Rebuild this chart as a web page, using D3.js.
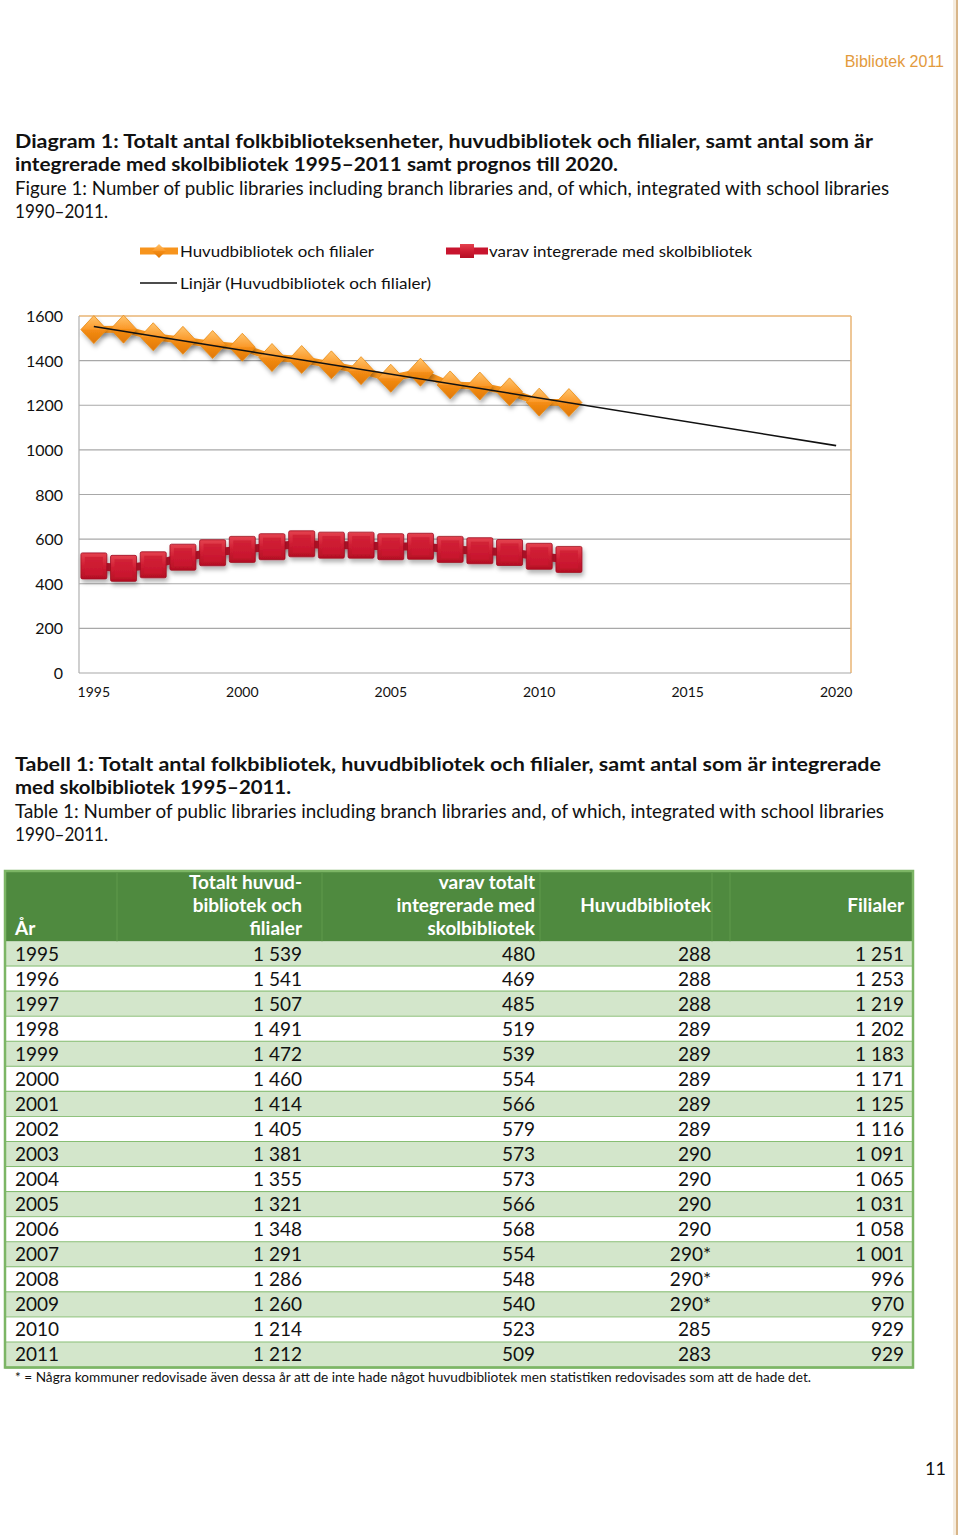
<!DOCTYPE html>
<html>
<head>
<meta charset="utf-8">
<script src="https://cdn.jsdelivr.net/npm/d3@7"></script>
<style>
  html, body { margin: 0; padding: 0; background: #fff; }
  svg { display: block; }
  text { font-family: Lato, "Open Sans", sans-serif; }
</style>
</head>
<body>
<div id="chart"></div>
<script>
// ---------------- DATA ----------------
const years = [1995, 1996, 1997, 1998, 1999, 2000, 2001, 2002, 2003, 2004, 2005, 2006, 2007, 2008, 2009, 2010, 2011];
const totalLibraries = [1539, 1541, 1507, 1491, 1472, 1460, 1414, 1405, 1381, 1355, 1321, 1348, 1291, 1286, 1260, 1214, 1212];
const integratedSchool = [480, 469, 485, 519, 539, 554, 566, 579, 573, 573, 566, 568, 554, 548, 540, 523, 509];
const mainLibraries = [288, 288, 288, 289, 289, 289, 289, 289, 290, 290, 290, 290, 290, 290, 290, 285, 283];
const mainFootnoteFlag = [false, false, false, false, false, false, false, false, false, false, false, false, true, true, true, false, false];
const branchLibraries = [1251, 1253, 1219, 1202, 1183, 1171, 1125, 1116, 1091, 1065, 1031, 1058, 1001, 996, 970, 929, 929];

const axisCategories = [1995, 1996, 1997, 1998, 1999, 2000, 2001, 2002, 2003, 2004, 2005, 2006, 2007, 2008, 2009, 2010, 2011, 2012, 2013, 2014, 2015, 2016, 2017, 2018, 2019, 2020];
const xTickLabels = [1995, 2000, 2005, 2010, 2015, 2020];
const yTicks = [0, 200, 400, 600, 800, 1000, 1200, 1400, 1600];
const trendYears = [1995, 2020];
const trendValues = [1553, 1019];

const seriesNames = ["Huvudbibliotek och filialer", "varav integrerade med skolbibliotek", "Linjär (Huvudbibliotek och filialer)"];
const tableHeaders = [["År"], ["Totalt huvud-", "bibliotek och", "filialer"], ["varav totalt", "integrerade med", "skolbibliotek"], ["Huvudbibliotek"], ["Filialer"]];

// ---------------- SETUP ----------------
const W = 960, H = 1535;
const svg = d3.select("#chart").append("svg").attr("width", W).attr("height", H);
const defs = svg.append("defs");

const sh = defs.append("filter").attr("id", "shadow").attr("x", "-50%").attr("y", "-50%").attr("width", "200%").attr("height", "200%");
sh.append("feDropShadow").attr("dx", 1.5).attr("dy", 3.5).attr("stdDeviation", 2).attr("flood-color", "#000").attr("flood-opacity", 0.3);

const og = defs.append("linearGradient").attr("id", "orangeGrad").attr("x1", 0).attr("y1", 0).attr("x2", 0).attr("y2", 1);
og.append("stop").attr("offset", "0%").attr("stop-color", "#ffc46e");
og.append("stop").attr("offset", "48%").attr("stop-color", "#fb9a2a");
og.append("stop").attr("offset", "52%").attr("stop-color", "#f48c14");
og.append("stop").attr("offset", "100%").attr("stop-color", "#e07806");

const rg = defs.append("linearGradient").attr("id", "redGrad").attr("x1", 0).attr("y1", 0).attr("x2", 0).attr("y2", 1);
rg.append("stop").attr("offset", "0%").attr("stop-color", "#e4424f");
rg.append("stop").attr("offset", "50%").attr("stop-color", "#cf1d33");
rg.append("stop").attr("offset", "100%").attr("stop-color", "#b50f25");

const ORANGE = "#f7941d", RED = "#c8142e";

// page border
svg.append("line").attr("x1", 954.5).attr("x2", 954.5).attr("y1", 0).attr("y2", H).attr("stroke", "#f5ecdf").attr("stroke-width", 3);
svg.append("line").attr("x1", 957).attr("x2", 957).attr("y1", 0).attr("y2", H).attr("stroke", "#d8b588").attr("stroke-width", 2);

// header
svg.append("text").attr("x", 944).attr("y", 67).attr("text-anchor", "end")
  .style("font-family", "'Liberation Sans', Arial, sans-serif").style("font-size", "16px").attr("fill", "#e39a3c").text("Bibliotek 2011");

function line(txt, x, y, size, bold, width) {
  const t = svg.append("text").attr("x", x).attr("y", y).style("font-size", size + "px")
    .style("font-weight", bold ? 700 : 400).attr("fill", "#111").text(txt);
  if (width) t.attr("textLength", width).attr("lengthAdjust", "spacingAndGlyphs");
  return t;
}

// title
line("Diagram 1: Totalt antal folkbiblioteksenheter, huvudbibliotek och filialer, samt antal som är", 15, 148, 19, true, 858);
line("integrerade med skolbibliotek 1995–2011 samt prognos till 2020.", 15, 171, 19, true, 603);
line("Figure 1: Number of public libraries including branch libraries and, of which, integrated with school libraries", 15, 195, 19, false, 874);
line("1990–2011.", 15, 218, 19, false, 93);

// ---------------- CHART ----------------
const plot = { left: 79, right: 851, top: 316, bottom: 673 };
const x = d3.scaleBand().domain(axisCategories).range([plot.left, plot.right]);
const cx = d => x(d) + x.bandwidth() / 2;
const y = d3.scaleLinear().domain([0, 1600]).range([plot.bottom, plot.top]);

// gridlines
svg.append("g").selectAll("line").data(yTicks.filter(v => v > 0 && v < 1600)).join("line")
  .attr("x1", plot.left).attr("x2", plot.right).attr("y1", d => y(d)).attr("y2", d => y(d))
  .attr("stroke", "#a8a8a8").attr("stroke-width", 1.2);
// borders
svg.append("line").attr("x1", plot.left).attr("x2", plot.right).attr("y1", y(1600)).attr("y2", y(1600)).attr("stroke", "#e8b574").attr("stroke-width", 1.5);
svg.append("line").attr("x1", plot.right).attr("x2", plot.right).attr("y1", plot.top).attr("y2", plot.bottom).attr("stroke", "#e8b574").attr("stroke-width", 1.5);
svg.append("line").attr("x1", plot.left).attr("x2", plot.left).attr("y1", plot.top).attr("y2", plot.bottom).attr("stroke", "#b0b0b0").attr("stroke-width", 1.2);
svg.append("line").attr("x1", plot.left).attr("x2", plot.right).attr("y1", plot.bottom).attr("y2", plot.bottom).attr("stroke", "#a8a8a8").attr("stroke-width", 1.2);

// y axis labels
const yAxis = d3.axisLeft(y).tickValues(yTicks).tickFormat(d3.format("d")).tickSize(0).tickPadding(0);
const gy = svg.append("g").attr("transform", `translate(63,0)`).call(yAxis);
gy.select(".domain").remove();
gy.selectAll("text").style("font-size", "16px").style("font-family", "Lato, sans-serif").attr("fill", "#111").attr("dy", "0.35em");

// x axis labels
const xAxis = d3.axisBottom(x).tickValues(xTickLabels).tickFormat(d3.format("d")).tickSize(0).tickPadding(0);
const gx = svg.append("g").attr("transform", `translate(0,${plot.bottom + 14})`).call(xAxis);
gx.select(".domain").remove();
gx.selectAll("text").style("font-size", "14px").style("font-family", "Lato, sans-serif").attr("fill", "#111").attr("dy", "0.7em");

const pts1 = years.map((yr, i) => [cx(yr), y(totalLibraries[i])]);
const pts2 = years.map((yr, i) => [cx(yr), y(integratedSchool[i])]);

// orange series
svg.append("path").attr("d", d3.line()(pts1)).attr("fill", "none").attr("stroke", ORANGE).attr("stroke-width", 7).attr("filter", "url(#shadow)");
const dS = 14;
svg.append("g").selectAll("path").data(pts1).join("path")
  .attr("d", d => `M${d[0]},${d[1] - dS}L${d[0] + dS - 1},${d[1]}L${d[0]},${d[1] + dS}L${d[0] - dS + 1},${d[1]}Z`)
  .attr("fill", "url(#orangeGrad)").attr("stroke", "#e88a12").attr("stroke-width", 0.8).attr("filter", "url(#shadow)");

// red series
svg.append("path").attr("d", d3.line()(pts2)).attr("fill", "none").attr("stroke", RED).attr("stroke-width", 8).attr("filter", "url(#shadow)");
const rS = 13;
const rg2 = svg.append("g").selectAll("g").data(pts2).join("g").attr("filter", "url(#shadow)");
rg2.append("rect").attr("x", d => d[0] - rS).attr("y", d => d[1] - rS).attr("width", 2 * rS).attr("height", 2 * rS)
  .attr("rx", 1.5).attr("fill", "url(#redGrad)").attr("stroke", "#9e0c20").attr("stroke-width", 0.8);
rg2.append("rect").attr("x", d => d[0] - rS + 4).attr("y", d => d[1] - rS + 4).attr("width", 2 * rS - 8).attr("height", 2 * rS - 8)
  .attr("fill", "#cc1a30").attr("opacity", 0.7);

// trend line
svg.append("path").attr("d", d3.line()(trendYears.map((yr, i) => [cx(yr), y(trendValues[i])])))
  .attr("fill", "none").attr("stroke", "#111").attr("stroke-width", 1.6);

// legend
const leg = svg.append("g");
leg.append("line").attr("x1", 140).attr("x2", 178).attr("y1", 251).attr("y2", 251).attr("stroke", ORANGE).attr("stroke-width", 7);
leg.append("path").attr("d", "M159,244L166,251L159,258L152,251Z").attr("fill", "url(#orangeGrad)");
leg.append("text").attr("x", 180).attr("y", 257).style("font-size", "16px").attr("fill", "#111").text(seriesNames[0]).attr("textLength", 194).attr("lengthAdjust", "spacingAndGlyphs");
leg.append("line").attr("x1", 446).attr("x2", 488).attr("y1", 251).attr("y2", 251).attr("stroke", RED).attr("stroke-width", 7);
leg.append("rect").attr("x", 460).attr("y", 244).attr("width", 14).attr("height", 14).attr("fill", "url(#redGrad)");
leg.append("text").attr("x", 489).attr("y", 257).style("font-size", "16px").attr("fill", "#111").text(seriesNames[1]).attr("textLength", 263).attr("lengthAdjust", "spacingAndGlyphs");
leg.append("line").attr("x1", 140).attr("x2", 177).attr("y1", 283).attr("y2", 283).attr("stroke", "#111").attr("stroke-width", 1.5);
leg.append("text").attr("x", 180).attr("y", 289).style("font-size", "16px").attr("fill", "#111").text(seriesNames[2]).attr("textLength", 251).attr("lengthAdjust", "spacingAndGlyphs");

// ---------------- TABLE ----------------
line("Tabell 1: Totalt antal folkbibliotek, huvudbibliotek och filialer, samt antal som är integrerade", 15, 771, 19, true, 866);
line("med skolbibliotek 1995–2011.", 15, 794, 19, true, 276);
line("Table 1: Number of public libraries including branch libraries and, of which, integrated with school libraries", 15, 818, 19, false, 869);
line("1990–2011.", 15, 841, 19, false, 93);

const fmt = d3.formatLocale({ decimal: ",", thousands: " ", grouping: [3], currency: ["", " kr"] }).format(",d");
const tbl = { left: 5, right: 913, headTop: 871, headBottom: 941.5, rowH: 25.06 };
const colRight = [null, 302, 535, 711, 904];
const headDividers = [117, 322, 540, 712, 730];

svg.append("rect").attr("x", tbl.left).attr("y", tbl.headTop).attr("width", tbl.right - tbl.left).attr("height", tbl.headBottom - tbl.headTop).attr("fill", "#4f8a3f");
svg.append("g").selectAll("line").data(headDividers).join("line")
  .attr("x1", d => d).attr("x2", d => d).attr("y1", tbl.headTop + 2).attr("y2", tbl.headBottom)
  .attr("stroke", "#5a9449").attr("stroke-width", 1.5);

const rows = svg.append("g").selectAll("g").data(years).join("g")
  .attr("transform", (d, i) => `translate(0,${tbl.headBottom + i * tbl.rowH})`);
rows.append("rect").attr("x", tbl.left).attr("y", 0).attr("width", tbl.right - tbl.left).attr("height", tbl.rowH)
  .attr("fill", (d, i) => i % 2 === 0 ? "#d3e6cb" : "#ffffff");
rows.append("line").attr("x1", tbl.left).attr("x2", tbl.right).attr("y1", tbl.rowH).attr("y2", tbl.rowH).attr("stroke", "#86bd72").attr("stroke-width", 2);

const bodyStyle = t => t.style("font-size", "19px").attr("fill", "#111").attr("y", 19);
rows.append("text").attr("x", 15).text(d => d).call(bodyStyle);
rows.append("text").attr("x", colRight[1]).attr("text-anchor", "end").text((d, i) => fmt(totalLibraries[i])).call(bodyStyle);
rows.append("text").attr("x", colRight[2]).attr("text-anchor", "end").text((d, i) => fmt(integratedSchool[i])).call(bodyStyle);
rows.append("text").attr("x", colRight[3]).attr("text-anchor", "end")
  .text((d, i) => fmt(mainLibraries[i]) + (mainFootnoteFlag[i] ? "*" : "")).call(bodyStyle);
rows.append("text").attr("x", colRight[4]).attr("text-anchor", "end").text((d, i) => fmt(branchLibraries[i])).call(bodyStyle);

// outer border
const tblBottom = tbl.headBottom + years.length * tbl.rowH;
svg.append("rect").attr("x", tbl.left).attr("y", tbl.headTop).attr("width", tbl.right - tbl.left).attr("height", tblBottom - tbl.headTop)
  .attr("fill", "none").attr("stroke", "#7cb565").attr("stroke-width", 2.5);

// header texts
const headX = [15, colRight[1], colRight[2], colRight[3], colRight[4]];
const head = svg.append("g").style("font-size", "19px").style("font-weight", 700).attr("fill", "#fff");
tableHeaders.forEach((lines, c) => {
  let startY;
  if (c === 0) startY = 935;
  else if (lines.length === 3) startY = 889;
  else startY = 912;
  lines.forEach((l, k) => {
    head.append("text").attr("x", headX[c]).attr("y", startY + k * 23.2)
      .attr("text-anchor", c === 0 ? "start" : "end").text(l);
  });
});

// footnote
svg.append("text").attr("x", 15).attr("y", 1382).style("font-size", "13px").attr("fill", "#111")
  .text("* = Några kommuner redovisade även dessa år att de inte hade något huvudbibliotek men statistiken redovisades som att de hade det.")
  .attr("textLength", 796).attr("lengthAdjust", "spacingAndGlyphs");

// page number
svg.append("text").attr("x", 946).attr("y", 1475).attr("text-anchor", "end").style("font-size", "18px").attr("fill", "#111").text("11");
</script>
</body>
</html>
